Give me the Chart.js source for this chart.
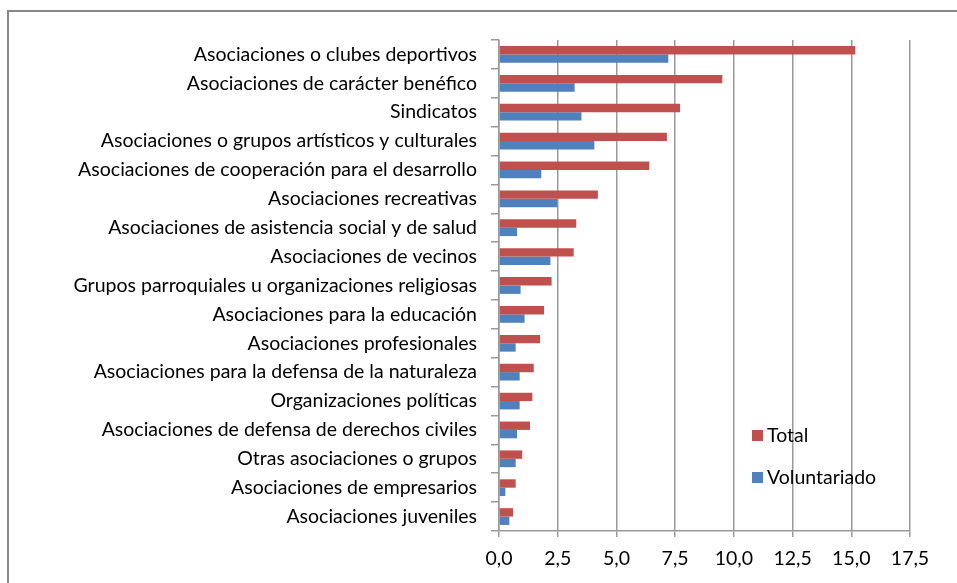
<!DOCTYPE html>
<html lang="es">
<head>
<meta charset="UTF-8">
<title>Asociaciones</title>
<script src="https://cdn.jsdelivr.net/npm/chart.js"></script>
<style>
    body { margin: 0; background: #fff; overflow: hidden; }
    .frame {
        position: absolute;
        left: 7px; top: 10px;
        width: 980px; height: 600px;
        border: 2px solid #888;
    }
    .wrap { position: absolute; left: 0; top: 0; width: 957px; height: 583px; }
</style>
</head>
<body>
<div class="frame"></div>
<div class="wrap"><canvas id="chart" width="957" height="583"></canvas></div>
<script>
const categories = [
    "Asociaciones o clubes deportivos",
    "Asociaciones de carácter benéfico",
    "Sindicatos",
    "Asociaciones o grupos artísticos y culturales",
    "Asociaciones de cooperación para el desarrollo",
    "Asociaciones recreativas",
    "Asociaciones de asistencia social y de salud",
    "Asociaciones de vecinos",
    "Grupos parroquiales u organizaciones religiosas",
    "Asociaciones para la educación",
    "Asociaciones profesionales",
    "Asociaciones para la defensa de la naturaleza",
    "Organizaciones políticas",
    "Asociaciones de defensa de derechos civiles",
    "Otras asociaciones o grupos",
    "Asociaciones de empresarios",
    "Asociaciones juveniles"
];
const total = [15.17, 9.51, 7.71, 7.15, 6.40, 4.21, 3.29, 3.18, 2.24, 1.92, 1.75, 1.48, 1.42, 1.32, 0.99, 0.71, 0.60];
const voluntariado = [7.21, 3.22, 3.51, 4.06, 1.80, 2.48, 0.77, 2.19, 0.92, 1.09, 0.71, 0.88, 0.88, 0.77, 0.71, 0.27, 0.44];
const xTicks = [0, 2.5, 5, 7.5, 10, 12.5, 15, 17.5];

const font = { family: "Lato, 'Open Sans', sans-serif", size: 19.5 };

// legend drawn inside the plot, bottom right
const insideLegend = {
    id: "insideLegend",
    afterDraw(chart) {
        const ctx = chart.ctx;
        const x = 752, ys = [430, 472];
        ctx.save();
        ctx.font = font.size + "px " + font.family;
        ctx.textBaseline = "middle";
        chart.data.datasets.forEach((ds, i) => {
            ctx.fillStyle = ds.backgroundColor;
            ctx.fillRect(x, ys[i], 11, 11);
            ctx.fillStyle = "#000";
            ctx.fillText(ds.label, x + 15, ys[i] + 6);
        });
        ctx.restore();
    }
};

new Chart(document.getElementById("chart"), {
    type: "bar",
    data: {
        labels: categories,
        datasets: [
            { label: "Total", data: total, backgroundColor: "#C0504D", categoryPercentage: 0.58, barPercentage: 1.0 },
            { label: "Voluntariado", data: voluntariado, backgroundColor: "#4F81BD", categoryPercentage: 0.58, barPercentage: 1.0 }
        ]
    },
    options: {
        indexAxis: "y",
        responsive: false,
        animation: false,
        layout: { padding: { left: 0, top: 40, right: 47, bottom: 12 } },
        plugins: { legend: { display: false }, tooltip: { enabled: false } },
        scales: {
            x: {
                min: 0,
                max: 17.5,
                afterBuildTicks: (scale) => { scale.ticks = xTicks.map(v => ({ value: v })); },
                afterFit: (scale) => { scale.height = 40; },
                grid: { color: "#9a9a9a", lineWidth: 1.5, tickLength: 6 },
                border: { display: true, color: "#9a9a9a", width: 1.5 },
                ticks: {
                    color: "#000",
                    font: font,
                    padding: 10,
                    maxRotation: 0,
                    callback: (v) => Number(v).toFixed(1).replace(".", ",")
                }
            },
            y: {
                afterFit: (scale) => { scale.width = 499; },
                grid: { drawOnChartArea: false, drawTicks: true, tickLength: 8, offset: true, color: "#9a9a9a", lineWidth: 1.5 },
                border: { display: true, color: "#9a9a9a", width: 1.5 },
                ticks: { color: "#000", font: font, padding: 14, autoSkip: false }
            }
        }
    },
    plugins: [insideLegend]
});
</script>
</body>
</html>
